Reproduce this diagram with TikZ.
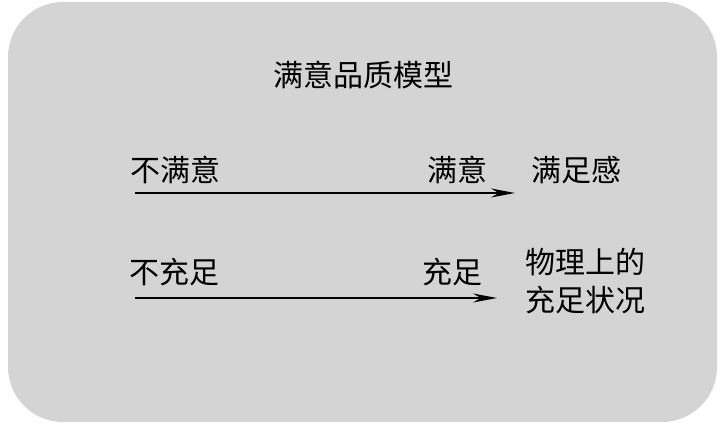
\documentclass[tikz,border=0pt]{standalone}
\usepackage{fontspec}
\newfontfamily\cjk{Noto Sans CJK SC}
\usetikzlibrary{arrows.meta}
\definecolor{bggray}{RGB}{212,212,212}
\begin{document}
\begin{tikzpicture}[x=1pt,y=-1pt,
  lbl/.style={font=\cjk\fontsize{30}{38}\selectfont, inner sep=0pt, anchor=center},
  arr/.style={line width=1.6pt, -{Stealth[length=24pt,width=9pt]}}]
\useasboundingbox (0,0) rectangle (724,427);
\fill[bggray, rounded corners=55pt] (8,2) rectangle (717,422);
\node[lbl] (title) at (363,75) {满意品质模型};
\node[lbl] (l1) at (175,170) {不满意};
\node[lbl] (m1) at (457,170) {满意};
\node[lbl] (r1) at (576,170) {满足感};
\coordinate (a1s) at (135,193);
\coordinate (a1e) at (515,193);
\draw[arr] (a1s) -- (a1e);
\node[lbl] (l2) at (174,272) {不充足};
\node[lbl] (m2) at (452,272) {充足};
\node[lbl, align=center] (r2) at (585,281) {物理上的\\充足状况};
\coordinate (a2s) at (135,298);
\coordinate (a2e) at (497,298);
\draw[arr] (a2s) -- (a2e);
\end{tikzpicture}
\end{document}
